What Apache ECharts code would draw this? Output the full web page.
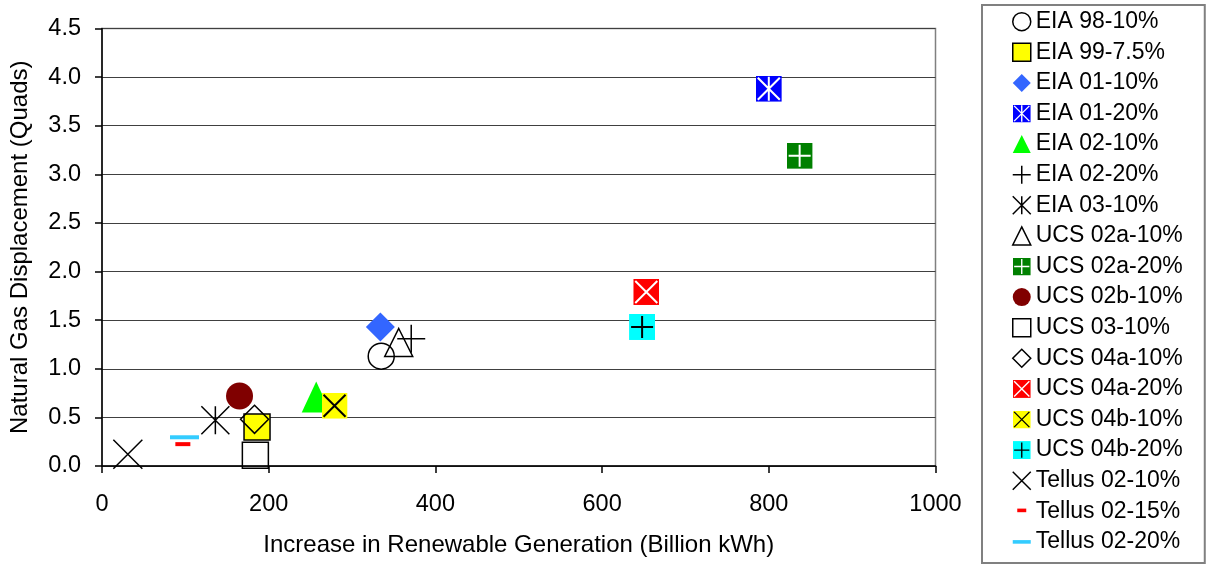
<!DOCTYPE html>
<html>
<head>
<meta charset="utf-8">
<script src="https://cdn.jsdelivr.net/npm/echarts@6/dist/echarts.min.js"></script>
<style>
html,body{margin:0;padding:0;background:#fff}
#chart{width:1207px;height:572px}
</style>
</head>
<body>
<div id="chart"></div>
<script>
// 各研究情景
let names = ['EIA 98-10%', 'EIA 99-7.5%', 'EIA 01-10%', 'EIA 01-20%', 'EIA 02-10%', 'EIA 02-20%',
    'EIA 03-10%', 'UCS 02a-10%', 'UCS 02a-20%', 'UCS 02b-10%', 'UCS 03-10%', 'UCS 04a-10%',
    'UCS 04a-20%', 'UCS 04b-10%', 'UCS 04b-20%', 'Tellus 02-10%', 'Tellus 02-15%', 'Tellus 02-20%'];
// 可再生发电增量 (Billion kWh)
let renewGen = [335, 186, 334, 800, 257, 371, 136, 356, 837, 165, 184, 183, 653, 279, 648, 31, 97, 99];
// 天然气替代量 (Quads)
let gasDisp = [1.13, 0.40, 1.43, 3.88, 0.71, 1.31, 0.47, 1.27, 3.19, 0.72, 0.11, 0.48, 1.79, 0.62, 1.43, 0.12, 0.23, 0.28];

// 带符号的方块图标
function boxIcon(bg, fg, glyph){
    let paths = {
        plus: 'M2 13H24M13 2V24',
        cross: 'M2 2L24 24M24 2L2 24',
        star: 'M13 1V25M2 2L24 24M24 2L2 24'
    };
    let svg = '<svg xmlns="http://www.w3.org/2000/svg" width="26" height="26" viewBox="0 0 26 26">' +
        '<rect width="26" height="26" fill="' + bg + '"/>' +
        '<path d="' + paths[glyph] + '" stroke="' + fg + '" stroke-width="2" fill="none"/></svg>';
    return 'image://data:image/svg+xml;charset=utf-8,' + encodeURIComponent(svg);
}
let plusPath = 'path://M0,10H20M10,0V20';
let crossPath = 'path://M0,0L20,20M20,0L0,20';
let starPath = 'path://M10,0V20M0,0L20,20M20,0L0,20';
let none = 'rgba(0,0,0,0)';

let markers = [
    {symbol: 'circle', size: 26, color: none, border: '#000'},
    {symbol: 'rect', size: 26, color: '#ffff00', border: '#000'},
    {symbol: 'diamond', size: 29, color: '#3366ff'},
    {symbol: boxIcon('#0000ff', '#fff', 'star'), size: 26},
    {symbol: 'triangle', size: [29, 31], color: '#00ff00'},
    {symbol: plusPath, size: 28, color: none, border: '#000'},
    {symbol: starPath, size: 28, color: none, border: '#000'},
    {symbol: 'triangle', size: 28, color: none, border: '#000'},
    {symbol: boxIcon('#008000', '#fff', 'plus'), size: 26},
    {symbol: 'circle', size: 27, color: '#800000'},
    {symbol: 'rect', size: 26, color: none, border: '#000'},
    {symbol: 'diamond', size: 28, color: none, border: '#000'},
    {symbol: boxIcon('#ff0000', '#fff', 'cross'), size: 26},
    {symbol: boxIcon('#ffff00', '#000', 'cross'), size: 26},
    {symbol: boxIcon('#00ffff', '#000', 'plus'), size: 26},
    {symbol: crossPath, size: 29, color: none, border: '#000'},
    {symbol: 'path://M0,0M7,13H22V17H7ZM29,29', size: 29, color: '#ff0000',
        icon: 'path://M0,0M5,7H15V11H5ZM20,20'},
    {symbol: 'path://M0,0M0,11H29V15H0ZM29,29', size: 29, color: '#33ccff',
        icon: 'path://M0,0M0,8H20V12H0ZM20,20'}
];

let font = 'Arial, "Liberation Sans", sans-serif';
let chart = echarts.init(document.getElementById('chart'));
let option = {
    animation: false,
    backgroundColor: '#fff',
    grid: {
        left: 98.5,
        right: 271.5,
        top: 28.5,
        bottom: 106,
        show: true,
        borderColor: '#808080',
        borderWidth: 1.5
    },
    legend: {
        orient: 'vertical',
        left: 982,
        top: 5,
        padding: [5.2, 22, 9.6, 30],
        itemWidth: 18,
        itemHeight: 18,
        itemGap: 7.6,
        borderColor: '#808080',
        borderWidth: 2,
        borderRadius: 0,
        itemStyle: {borderWidth: 1.5},
        textStyle: {color: '#000', fontSize: 23, fontFamily: font, lineHeight: 23},
        data: names.map(function(n, i){
            return markers[i].icon ? {name: n, icon: markers[i].icon} : {name: n};
        })
    },
    xAxis: {
        type: 'value',
        min: 0,
        max: 1000,
        interval: 200,
        name: 'Increase in Renewable Generation (Billion kWh)',
        nameLocation: 'middle',
        nameGap: 67,
        nameTextStyle: {color: '#000', fontSize: 24, fontFamily: font},
        axisLine: {lineStyle: {color: '#000', width: 1.5}},
        axisTick: {length: 7, lineStyle: {color: '#000', width: 1.5}},
        axisLabel: {color: '#000', fontSize: 23.5, fontFamily: font, margin: 27,
            formatter: function(v){ return String(v); }},
        splitLine: {show: false}
    },
    yAxis: {
        type: 'value',
        min: 0,
        max: 4.5,
        interval: 0.5,
        name: 'Natural Gas Displacement (Quads)',
        nameLocation: 'middle',
        nameGap: 70,
        nameTextStyle: {color: '#000', fontSize: 24, fontFamily: font},
        axisLine: {show: true, lineStyle: {color: '#000', width: 1.5}},
        axisTick: {show: true, length: 7, lineStyle: {color: '#000', width: 1.5}},
        axisLabel: {color: '#000', fontSize: 23.5, fontFamily: font, margin: 21,
            formatter: function(v){ return v.toFixed(1); }},
        splitLine: {lineStyle: {color: '#404040', width: 1.2}}
    },
    series: names.map(function(n, i){
        let m = markers[i];
        return {
            name: n,
            type: 'scatter',
            data: [[renewGen[i], gasDisp[i]]],
            symbol: m.symbol,
            symbolSize: m.size,
            itemStyle: {
                color: m.color || '#000',
                borderColor: m.border || none,
                borderWidth: m.border ? 1.5 : 0,
                opacity: 1
            },
            emphasis: {disabled: true}
        };
    })
};
chart.setOption(option);
</script>
</body>
</html>
